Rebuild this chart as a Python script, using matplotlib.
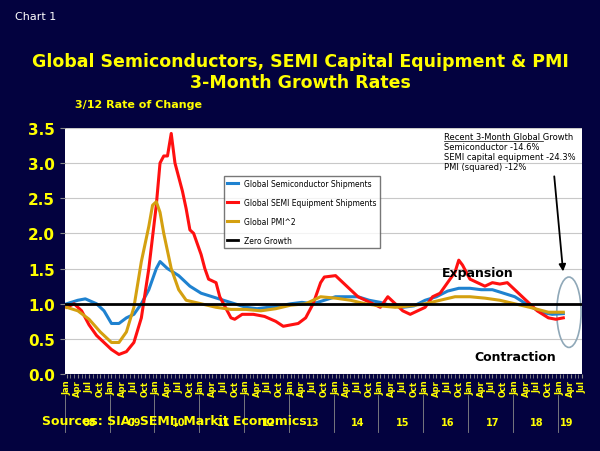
import numpy as np
import matplotlib
matplotlib.use("Agg")
import matplotlib.pyplot as plt
from matplotlib.patches import Ellipse

# months counted from Jan 2008
semi_m = [0, 3, 5, 8, 10, 12, 14, 16, 18, 20, 22, 24, 25, 27, 30, 33, 36, 39, 42, 45, 48, 51, 54, 57, 60, 63, 66,
          69, 72, 75, 78, 81, 84, 87, 90, 93, 96, 99, 102, 105, 108, 111, 114, 117, 120, 123, 127, 130, 133]
semi_v = [1.0, 1.05, 1.07, 1.0, 0.9, 0.72, 0.72, 0.8, 0.85, 1.0, 1.2, 1.5, 1.6, 1.5, 1.4, 1.25, 1.15, 1.1, 1.05,
          1.0, 0.95, 0.93, 0.95, 0.97, 1.0, 1.02, 1.0, 1.05, 1.1, 1.1, 1.1, 1.05, 1.02, 0.97, 0.95, 0.97, 1.05, 1.1,
          1.18, 1.22, 1.22, 1.2, 1.2, 1.15, 1.1, 1.0, 0.88, 0.85, 0.86]
equip_m = [0, 2, 4, 6, 8, 10, 12, 14, 16, 18, 20, 22, 24, 25, 26, 27, 28, 29, 30, 31, 32, 33, 34, 36, 37, 38, 40,
           41, 42, 44, 45, 47, 50, 53, 56, 58, 60, 62, 64, 66, 68, 69, 72, 74, 76, 78, 80, 82, 84, 86, 88, 90, 92,
           94, 96, 98, 100, 102, 104, 105, 106, 108, 110, 112, 114, 116, 118, 120, 122, 124, 126, 129, 131, 133]
equip_v = [0.95, 1.0, 0.9, 0.7, 0.55, 0.45, 0.35, 0.28, 0.32, 0.45, 0.8, 1.5, 2.4, 3.0, 3.1, 3.1, 3.42, 3.0, 2.8,
           2.6, 2.35, 2.05, 2.0, 1.7, 1.5, 1.35, 1.3, 1.1, 1.0, 0.8, 0.78, 0.85, 0.85, 0.82, 0.75, 0.68, 0.7, 0.72,
           0.8, 1.0, 1.3, 1.38, 1.4, 1.3, 1.2, 1.1, 1.05, 1.0, 0.95, 1.1, 1.0, 0.9, 0.85, 0.9, 0.95, 1.1, 1.15, 1.3,
           1.45, 1.62, 1.55, 1.35, 1.3, 1.25, 1.3, 1.28, 1.3, 1.2, 1.1, 1.0, 0.9, 0.8, 0.78, 0.8]
pmi_m = [0, 3, 6, 9, 12, 14, 16, 18, 20, 22, 23, 24, 25, 26, 28, 30, 32, 36, 40, 44, 48, 52, 56, 60, 64, 68, 72,
         76, 80, 84, 88, 92, 96, 100, 104, 108, 112, 116, 120, 124, 129, 133]
pmi_v = [0.95, 0.9, 0.78, 0.6, 0.45, 0.45, 0.6, 0.95, 1.6, 2.1, 2.4, 2.45, 2.3, 2.0, 1.5, 1.2, 1.05, 1.0, 0.95,
         0.92, 0.92, 0.9, 0.93, 0.98, 1.0, 1.1, 1.08, 1.05, 1.0, 0.97, 0.95, 0.97, 1.0, 1.05, 1.1, 1.1, 1.08, 1.05,
         1.0, 0.95, 0.88, 0.88]
years = ["08", "09", "10", "11", "12", "13", "14", "15", "16", "17", "18", "19"]
months = ["Jan", "Apr", "Jul", "Oct"]

NAVY = "#03023f"
YEL = "#ffff00"

fig = plt.figure(figsize=(6, 4.52), dpi=100, facecolor=NAVY)
ax = fig.add_axes([0.108, 0.17, 0.862, 0.545])
ax.set_facecolor("white")

ax.plot(semi_m, semi_v, color="#1f82d0", lw=2.2, label="Global Semiconductor Shipments")
ax.plot(equip_m, equip_v, color="#ff1010", lw=2.2, label="Global SEMI Equipment Shipments")
ax.plot(pmi_m, pmi_v, color="#d4a010", lw=2.2, label="Global PMI^2")
ax.axhline(1.0, color="black", lw=2, label="Zero Growth")

ax.set_xlim(-0.5, 137.5)
ax.set_ylim(0, 3.5)
ax.set_yticks(np.arange(0, 3.51, 0.5))
ax.set_yticklabels([f"{v:.1f}" for v in np.arange(0, 3.51, 0.5)], color=YEL, fontsize=11, fontweight="bold")
ax.yaxis.grid(True, color="#c8c8c8", lw=0.8)
ax.set_axisbelow(True)

ticks, labels = [], []
for i, y in enumerate(years):
    for j, m in enumerate(months):
        if y == "19" and j == 3:
            continue
        ticks.append(i * 12 + j * 3)
        labels.append(m)
ax.set_xticks(ticks)
ax.set_xticklabels(labels, rotation=90, color=YEL, fontsize=6, fontweight="bold")
ax.set_xticks(np.arange(0, 138, 1), minor=True)
ax.tick_params(axis="x", which="both", color="#888888", length=3, pad=1)
ax.tick_params(axis="y", color="#888888")
for s in ax.spines.values():
    s.set_visible(False)

for i, y in enumerate(years):
    ax.text(i * 12 + 6 if y != "19" else 134, -0.68, y, color=YEL, fontsize=7, fontweight="bold",
            ha="center", va="center", clip_on=False)
    ax.plot([i * 12 - 0.5] * 2, [-0.3, -0.82], color="#888888", lw=0.6, clip_on=False)

ax.legend(loc="upper left", bbox_to_anchor=(0.3, 0.82), fontsize=5.5, frameon=True, fancybox=False,
          edgecolor="#555555", labelspacing=1.3, handlelength=1.5)

ax.text(110, 1.45, "Expansion", fontsize=9, fontweight="bold", ha="center", va="center")
ax.text(120, 0.25, "Contraction", fontsize=9, fontweight="bold", ha="center", va="center")
ax.text(101, 3.37, "Recent 3-Month Global Growth", fontsize=6, ha="left", va="center")
ax.plot([101, 127.5], [3.31, 3.31], color="black", lw=0.5)
ax.text(101, 3.23, "Semiconductor -14.6%", fontsize=6, ha="left", va="center")
ax.text(101, 3.09, "SEMI capital equipment -24.3%", fontsize=6, ha="left", va="center")
ax.text(101, 2.95, "PMI (squared) -12%", fontsize=6, ha="left", va="center")
ax.annotate("", xy=(133, 1.42), xytext=(130.5, 2.85),
            arrowprops=dict(arrowstyle="-|>", color="black", lw=1.3))
ax.add_patch(Ellipse((134.5, 0.88), 6.5, 1.0, fill=False, edgecolor="#8fa8b8", lw=1.2))

fig.text(0.025, 0.955, "Chart 1", color="white", fontsize=8)
fig.text(0.5, 0.84, "Global Semiconductors, SEMI Capital Equipment & PMI\n3-Month Growth Rates",
         color=YEL, fontsize=12.5, fontweight="bold", ha="center", va="center", linespacing=1.25)
fig.text(0.125, 0.76, "3/12 Rate of Change", color=YEL, fontsize=8, fontweight="bold")
fig.text(0.07, 0.06, "Sources: SIA; SEMI, Markit Economics", color=YEL, fontsize=9, fontweight="bold")

fig.savefig("out.png", dpi=100, facecolor=NAVY)
